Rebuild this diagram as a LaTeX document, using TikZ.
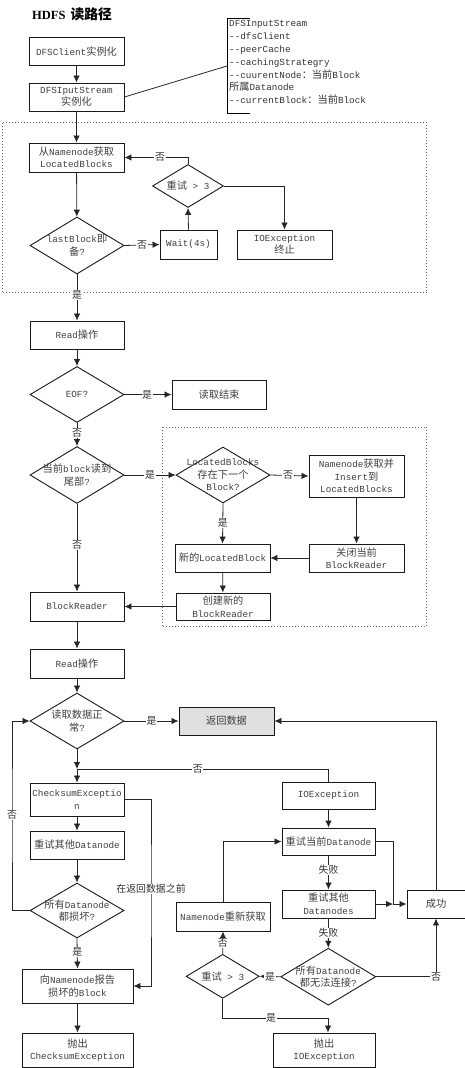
\documentclass[tikz,border=0pt]{standalone}
\usepackage{fontspec}
\setmainfont{Liberation Mono}
\newfontfamily\zh[Scale=1.1]{Noto Sans CJK SC}
\newfontfamily\ttlfont{Liberation Serif}
\usetikzlibrary{arrows.meta,shapes.geometric}
\newcommand\zz[1]{{\zh #1}}
\tikzset{
 box/.style={draw=black!90, line width=0.9pt, minimum width=95pt, minimum height=28pt, inner sep=1pt, align=center, text=black!75, font=\fontsize{9.3}{12.5}\selectfont},
 dia/.style={draw=black!90, diamond, line width=0.9pt, minimum width=94pt, minimum height=57pt, inner sep=0pt},
 lbl/.style={align=center, text=black!75, font=\fontsize{9.3}{12.5}\selectfont, inner sep=0pt},
 arr/.style={-{Latex[length=7pt,width=6.5pt]}, line width=0.8pt, draw=black!85},
 ln/.style={line width=0.8pt, draw=black!85},
 yn/.style={fill=white, inner sep=0.6pt, text=black!80, font=\zh\fontsize{9}{10}\selectfont},
 dotbox/.style={draw=black!60, line width=0.7pt, dash pattern=on 0.7pt off 2.3pt},
}
\begin{document}
\begin{tikzpicture}[x=1pt,y=-1pt]
\useasboundingbox (0,0) rectangle (465,1068);
% dotted frames
\draw[dotbox] (2,122.7) rectangle (426.7,292.7);
\draw[dotbox] (162,427) rectangle (426.7,626.7);
% title
\node[anchor=west, inner sep=0] (title) at (32,14) {{\ttlfont\bfseries\fontsize{12.5}{14}\selectfont HDFS}\hspace{5pt}{\zh\bfseries\fontsize{12.5}{14}\selectfont 读路径}};
% annotation bracket
\draw[line width=0.9pt] (250,18) -- (227,18) -- (227,113) -- (250,113);
\coordinate (notept) at (227,66);
\node[anchor=north west, align=left, inner sep=0, font=\fontsize{9.3}{12.8}\selectfont, text=black!80] (note) at (229,20.5)
 {DFSInputStream\\-{}-dfsClient\\-{}-peerCache\\-{}-cachingStrategry\\-{}-cuurentNode\zz{：当前}Block\\\zz{所属}Datanode\\-{}-currentBlock\zz{：当前}Block};
% boxes
\node[box] (b1) at (76.5,51.5) {DFSClient\zz{实例化}};
\node[box] (b2) at (76.5,97) {DFSIputStream\\\zz{实例化}};
\node[box, minimum height=29pt] (b3) at (76.5,157.5) {\zz{从}Namenode\zz{获取}\\LocatedBlocks};
\node[box, minimum width=57pt, minimum height=29pt] (wait) at (188.5,244.5) {Wait(4s)};
\node[box, minimum height=29pt] (ioe1) at (284.5,244.5) {IOException\\\zz{终止}};
\node[box, minimum width=94pt] (read1) at (77,335) {Read\zz{操作}};
\node[box, minimum width=94pt, minimum height=29pt] (end) at (219,394.5) {\zz{读取结束}};
\node[box, minimum height=42pt] (nn) at (356.5,476) {Namenode\zz{获取并}\\Insert\zz{到}\\LocatedBlocks};
\node[box] (newlb) at (222.5,558) {\zz{新的}LocatedBlock};
\node[box] (close) at (356.5,558) {\zz{关闭当前}\\BlockReader};
\node[box, minimum width=94pt, minimum height=27pt] (create) at (223,606.5) {\zz{创建新的}\\BlockReader};
\node[box, minimum width=94pt, minimum height=29pt] (br) at (77,606.5) {BlockReader};
\node[box, minimum width=94pt, minimum height=29pt] (read2) at (77,663.5) {Read\zz{操作}};
\node[box, fill=black!12] (ret) at (226.5,721) {\zz{返回数据}};
\node[box, minimum width=94pt, minimum height=33pt] (cse) at (77,799.5) {ChecksumExceptio\\n};
\node[box, minimum width=94pt] (rod) at (77,845) {\zz{重试其他}Datanode};
\node[box, minimum width=111pt, minimum height=34pt] (rep) at (77.5,986) {\zz{向}Namenode\zz{报告}\\\zz{损坏的}Block};
\node[box, minimum width=111pt, minimum height=34pt] (thr1) at (77.5,1050) {\zz{抛出}\\ChecksumException};
\node[box, minimum width=93pt, minimum height=27pt] (ioe2) at (328.5,795.5) {IOException};
\node[box, minimum width=93pt, minimum height=27pt] (rcd) at (328.5,841.5) {\zz{重试当前}Datanode};
\node[box, minimum width=93pt] (rods) at (328.5,904) {\zz{重试其他}\\Datanodes};
\node[box, minimum width=58pt] (ok) at (436,904) {\zz{成功}};
\node[box, minimum width=94pt, minimum height=29pt] (nnr) at (223,916.5) {Namenode\zz{重新获取}};
\node[box, minimum width=102pt, minimum height=34pt] (thr2) at (324,1050) {\zz{抛出}\\IOException};
% diamonds
\node[dia, minimum width=71pt, minimum height=43pt] (dr1) at (188,186) {};
\node[lbl] (dr1t) at (dr1) {\zz{重试} > 3};
\node[dia] (dlb) at (77,245.5) {};
\node[lbl] (dlbt) at (dlb) {lastBlock\zz{即}\\\zz{备}?};
\node[dia, minimum height=56pt] (eof) at (77,394.5) {};
\node[lbl] (eoft) at (eof) {EOF?};
\node[dia] (dend) at (77,475) {};
\node[lbl] (dendt) at (dend) {\zz{当前}block\zz{读到}\\\zz{尾部}?};
\node[dia, minimum height=56pt] (dlbs) at (223,475) {};
\node[lbl] (dlbst) at (dlbs) {LocatedBlocks\\\zz{存在下一个}\\Block?};
\node[dia, minimum height=56pt] (dok) at (77,721) {};
\node[lbl] (dokt) at (dok) {\zz{读取数据正}\\\zz{常}?};
\node[dia, minimum height=55pt] (dall) at (77,910.5) {};
\node[lbl] (dallt) at (dall) {\zz{所有}Datanode\\\zz{都损坏}?};
\node[dia, minimum width=73pt, minimum height=44pt] (dr2) at (222.7,976.3) {};
\node[lbl] (dr2t) at (dr2) {\zz{重试} > 3};
\node[dia, minimum width=95pt] (dnc) at (328.3,976.7) {};
\node[lbl] (dnct) at (dnc) {\zz{所有}Datanode\\\zz{都无法连接}?};
% coordinates
\coordinate (j1) at (77,769);
\coordinate (j2) at (393,904);
\coordinate (lp) at (12,815);
\coordinate (cr) at (151,889);
\coordinate (bt) at (328,1018);
% connectors
\draw[ln] (b2.east) -- (notept);
\draw[arr] (b1) -- (b2);
\draw[arr] (b2) -- (b3);
\draw[arr] (b3) -- (dlb);
\draw[arr] (dlb.east) -- node[yn,pos=0.5] (l1) {否} (wait.west);
\draw[arr] (wait.north) -- (dr1.south);
\draw[arr] (dr1.north) |- node[yn,pos=0.72] (l2) {否} (b3.east);
\draw[arr] (dr1.east) -| (ioe1.north);
\draw[arr] (dlb.south) -- node[yn,pos=0.45] (l3) {是} (read1.north);
\draw[arr] (read1) -- (eof);
\draw[arr] (eof.east) -- node[yn,pos=0.48] (l4) {是} (end.west);
\draw[arr] (eof.south) -- node[yn,pos=0.45] (l5) {否} (dend.north);
\draw[arr] (dend.east) -- node[yn,pos=0.5] (l6) {是} (dlbs.west);
\draw[arr] (dlbs.east) -- node[yn,pos=0.46] (l7) {否} (nn.west);
\draw[arr] (dlbs.south) -- node[yn,pos=0.48] (l8) {是} (newlb.north);
\draw[arr] (nn) -- (close);
\draw[arr] (close) -- (newlb);
\draw[arr] (newlb) -- (create);
\draw[arr] (create) -- (br);
\draw[arr] (dend.south) -- node[yn,pos=0.47] (l9) {否} (br.north);
\draw[arr] (br) -- (read2);
\draw[arr] (read2) -- (dok);
\draw[arr] (dok.east) -- node[yn,pos=0.5] (l10) {是} (ret.west);
\draw[arr] (dok.south) -- (j1);
\draw[arr] (j1) -- (cse.north);
\draw[ln] (ioe2.north) |- node[yn,pos=0.76] (l11) {否} (j1);
\draw[arr] (cse) -- (rod);
\draw[arr] (rod) -- (dall);
\draw[arr] (dall.west) -| (lp) |- (dok.west);
\node[yn] (l12) at (lp) {否};
\draw[arr] (dall.south) -- node[yn,pos=0.45] (l13) {是} (rep.north);
\draw[arr] (cse.east) -| (cr) |- (rep.east);
\node[yn] (l14) at (cr) {\zz{在返回数据之前}};
\draw[arr] (rep) -- (thr1);
\draw[arr] (ioe2) -- (rcd);
\draw[arr] (rcd.south) -- node[yn,pos=0.43] (l15) {失败} (rods.north);
\draw[ln] (rcd.east) -| (j2);
\draw[arr] (rods.east) -- (j2);
\draw[arr] (j2) -- (ok.west);
\draw[arr] (ok.north) |- (ret.east);
\draw[arr] (nnr.north) |- (rcd.west);
\draw[arr] (dr2.north) -- node[yn,pos=0.5] (l16) {否} (nnr.south);
\draw[arr] (rods.south) -- node[yn,pos=0.49] (l17) {失败} (dnc.north);
\draw[arr] (dnc.west) -- node[yn,pos=0.5] (l18) {是} (dr2.east);
\draw[arr] (dnc.east) -| node[yn,pos=0.5] (l19) {否} (ok.south);
\draw[arr] (dr2.south) |- node[yn,pos=0.73] (l20) {是} (bt) -- (bt |- thr2.north);
\end{tikzpicture}
\end{document}
